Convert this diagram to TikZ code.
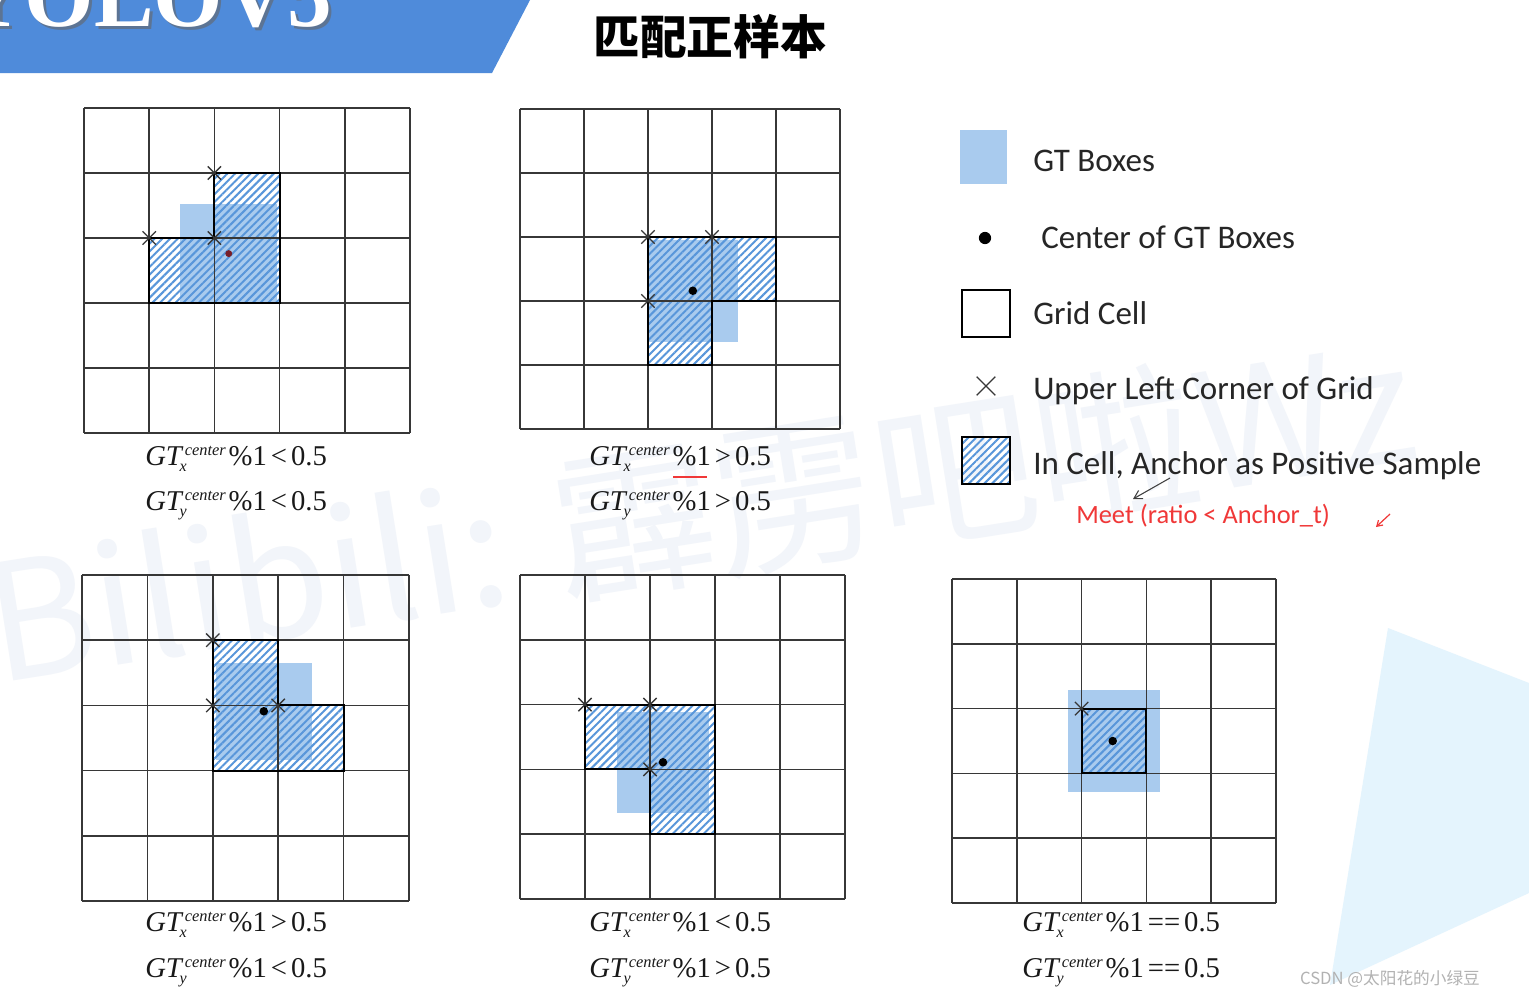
\documentclass[tikz,border=0pt]{standalone}
\usepackage{fontspec}
\setmainfont{Liberation Serif}
\newfontfamily\legendfont{Carlito}
\newfontfamily\cjkfont{Noto Sans CJK SC}
\usetikzlibrary{patterns.meta,arrows.meta}
\definecolor{gtblue}{RGB}{169,203,238}
\definecolor{hatchblue}{RGB}{88,150,218}
\definecolor{bannerblue}{RGB}{79,139,218}
\definecolor{gridgray}{RGB}{55,55,55}
\definecolor{wmark}{RGB}{242,245,250}
\definecolor{tri}{RGB}{228,244,253}
\definecolor{redtext}{RGB}{240,56,56}
\definecolor{darkdot}{RGB}{120,30,40}
\newcommand\gtform[2]{{\fontsize{21.5}{25}\selectfont\itshape GT\kern-0.08em\rlap{\raisebox{-4.5pt}{\fontsize{12}{12}\selectfont #1}}\kern0.18em\raisebox{7.2pt}{\fontsize{12.3}{12}\selectfont center}\upshape\kern0.1em\%1\kern0.14em#2\kern0.14em0.5}}
\tikzset{
  gridline/.style={draw=gridgray, line width=1.1pt},
  gtbox/.style={fill=gtblue},
  hatchfill/.style={pattern={Lines[angle=45,distance=4.1pt,line width=1.5pt]}, pattern color=hatchblue},
  anchorline/.style={draw=black, line width=1.6pt, line join=miter},
  crossmark/.style={draw=gridgray, line width=1pt},
  legendtext/.style={anchor=base west, inner sep=0pt, font=\legendfont\fontsize{24.75}{30}\selectfont, text=black!85},
  formula/.style={anchor=base west, inner sep=0pt, text=black!90},
  cdot/.style={fill=black},
}
\newcommand\xmk[1]{\draw[crossmark] (#1) +(-5pt,-5pt) -- +(5pt,5pt) (#1) +(-5pt,5pt) -- +(5pt,-5pt);}
\newcommand\gridlines{\foreach \i in {0,...,5} {\draw[gridline] (\i,0) -- (\i,5); \draw[gridline] (0,\i) -- (5,\i);}}
\begin{document}
\begin{tikzpicture}[x=0.75pt,y=-0.75pt]
\useasboundingbox (0,0) rectangle (1529,1004);
\clip (0,0) rectangle (1529,1004);
\fill[white] (0,0) rectangle (1529,1004);
% watermark
\node[inner sep=0pt, rotate=9, text=wmark, font=\cjkfont\fontsize{122}{130}\selectfont] (wm) at (700,510) {Bilibili: 霹雳吧啦Wz};
% light triangle
\fill[tri] (1388,628) -- (1529,683) -- (1529,893) -- (1330,985) -- cycle;
% banner
\fill[bannerblue] (0,0) -- (530,0) -- (492,73) -- (0,73) -- cycle;
\node[anchor=base west, inner sep=0pt, text=black!60, opacity=0.6, font=\fontsize{67}{67}\selectfont\bfseries] at (-37,29) {YOLOV5};
\node[anchor=base west, inner sep=0pt, text=white, font=\fontsize{67}{67}\selectfont\bfseries] (ban) at (-40,26) {YOLOV5};
% title
\node[inner sep=0pt, font=\cjkfont\bfseries\fontsize{35}{40}\selectfont] (title) at (710,37) {匹配正样本};

% ---------- grid 1
\begin{scope}[shift={(84,108)}, x=48.9pt, y=-48.75pt]
  \fill[gtbox] (1.48,1.48) rectangle (2.96,3.0);
  \fill[hatchfill] (2,1) -- (3,1) -- (3,3) -- (1,3) -- (1,2) -- (2,2) -- cycle;
  \gridlines
  \draw[anchorline] (2,1) -- (3,1) -- (3,3) -- (1,3) -- (1,2) -- (2,2) -- cycle;
  \xmk{2,1}\xmk{1,2}\xmk{2,2}
  \fill[darkdot] (2.22,2.24) circle (2.6pt);
\end{scope}
% ---------- grid 2
\begin{scope}[shift={(520,109)}, x=48pt, y=-48pt]
  \fill[gtbox] (2,2.05) rectangle (3.41,3.64);
  \fill[hatchfill] (2,2) -- (4,2) -- (4,3) -- (3,3) -- (3,4) -- (2,4) -- cycle;
  \gridlines
  \draw[anchorline] (2,2) -- (4,2) -- (4,3) -- (3,3) -- (3,4) -- (2,4) -- cycle;
  \xmk{2,2}\xmk{3,2}\xmk{2,3}
  \fill[cdot] (2.70,2.84) circle (3.2pt);
\end{scope}
% ---------- grid 3
\begin{scope}[shift={(82,575)}, x=49.05pt, y=-48.9pt]
  \fill[gtbox] (2.05,1.35) rectangle (3.52,2.84);
  \fill[hatchfill] (2,1) -- (3,1) -- (3,2) -- (4,2) -- (4,3) -- (2,3) -- cycle;
  \gridlines
  \draw[anchorline] (2,1) -- (3,1) -- (3,2) -- (4,2) -- (4,3) -- (2,3) -- cycle;
  \xmk{2,1}\xmk{2,2}\xmk{3,2}
  \fill[cdot] (2.78,2.09) circle (3.2pt);
\end{scope}
% ---------- grid 4
\begin{scope}[shift={(520,575)}, x=48.75pt, y=-48.6pt]
  \fill[gtbox] (1.49,2.11) rectangle (2.91,3.68);
  \fill[hatchfill] (1,2) -- (3,2) -- (3,4) -- (2,4) -- (2,3) -- (1,3) -- cycle;
  \gridlines
  \draw[anchorline] (1,2) -- (3,2) -- (3,4) -- (2,4) -- (2,3) -- (1,3) -- cycle;
  \xmk{1,2}\xmk{2,2}\xmk{2,3}
  \fill[cdot] (2.2,2.89) circle (3.2pt);
\end{scope}
% ---------- grid 5
\begin{scope}[shift={(952,579)}, x=48.6pt, y=-48.6pt]
  \fill[gtbox] (1.79,1.71) rectangle (3.21,3.29);
  \fill[hatchfill] (2,2) rectangle (3,3);
  \gridlines
  \draw[anchorline] (2,2) rectangle (3,3);
  \xmk{2,2}
  \fill[cdot] (2.48,2.5) circle (3.2pt);
\end{scope}

% formulas
\node[formula] (f1a) at (145,465) {\gtform{x}{<}};
\node[formula] (f1b) at (145,510) {\gtform{y}{<}};
\node[formula] (f2a) at (589,465) {\gtform{x}{>}};
\node[formula] (f2b) at (589,510) {\gtform{y}{>}};
\node[formula] (f3a) at (145,931) {\gtform{x}{>}};
\node[formula] (f3b) at (145,977) {\gtform{y}{<}};
\node[formula] (f4a) at (589,931) {\gtform{x}{<}};
\node[formula] (f4b) at (589,977) {\gtform{y}{>}};
\node[formula] (f5a) at (1022,931) {\gtform{x}{==}};
\node[formula] (f5b) at (1022,977) {\gtform{y}{==}};
\coordinate (ul1) at (673,477);
\coordinate (ul2) at (707,477);
\draw[redtext, line width=1.6pt] (ul1) -- (ul2);

% legend
\fill[gtblue] (960,130) rectangle (1007,184);
\node[legendtext] (l1) at (1033,171) {GT Boxes};
\fill[black] (985,238) circle (4.6pt);
\node[legendtext] (l2) at (1041,248) {Center of GT Boxes};
\draw[black, line width=1.5pt] (962,290) rectangle (1010,337);
\node[legendtext] (l3) at (1033,324) {Grid Cell};
\coordinate (lx) at (986,386);
\draw[gridgray, line width=1pt] (lx) +(-7pt,-7pt) -- +(7pt,7pt) (lx) +(-7pt,7pt) -- +(7pt,-7pt);
\node[legendtext] (l4) at (1033,399) {Upper Left Corner of Grid};
\fill[hatchfill] (962,437) rectangle (1010,484);
\draw[black, line width=1.5pt] (962,437) rectangle (1010,484);
\node[legendtext] (l5) at (1033,474) {In Cell, Anchor as Positive Sample};
\node[anchor=base west, inner sep=0pt, text=redtext, font=\legendfont\fontsize{19.8}{24}\selectfont] (meet) at (1076,523) {Meet (ratio < Anchor\_t)};
\coordinate (a1) at (1170,478);
\coordinate (a2) at (1133,499);
\draw[black!75, line width=0.8pt, -{Straight Barb[length=6pt,width=7pt]}] (a1) -- (a2);
\coordinate (r1) at (1390,514);
\coordinate (r2) at (1376,527);
\draw[redtext, line width=0.9pt, -{Straight Barb[length=4pt,width=5pt]}] (r1) -- (r2);

% CSDN mark
\node[inner sep=0pt, text=black!30, font=\cjkfont\fontsize{12.5}{15}\selectfont] (csdn) at (1390,979) {CSDN @太阳花的小绿豆};
\end{tikzpicture}
\end{document}
